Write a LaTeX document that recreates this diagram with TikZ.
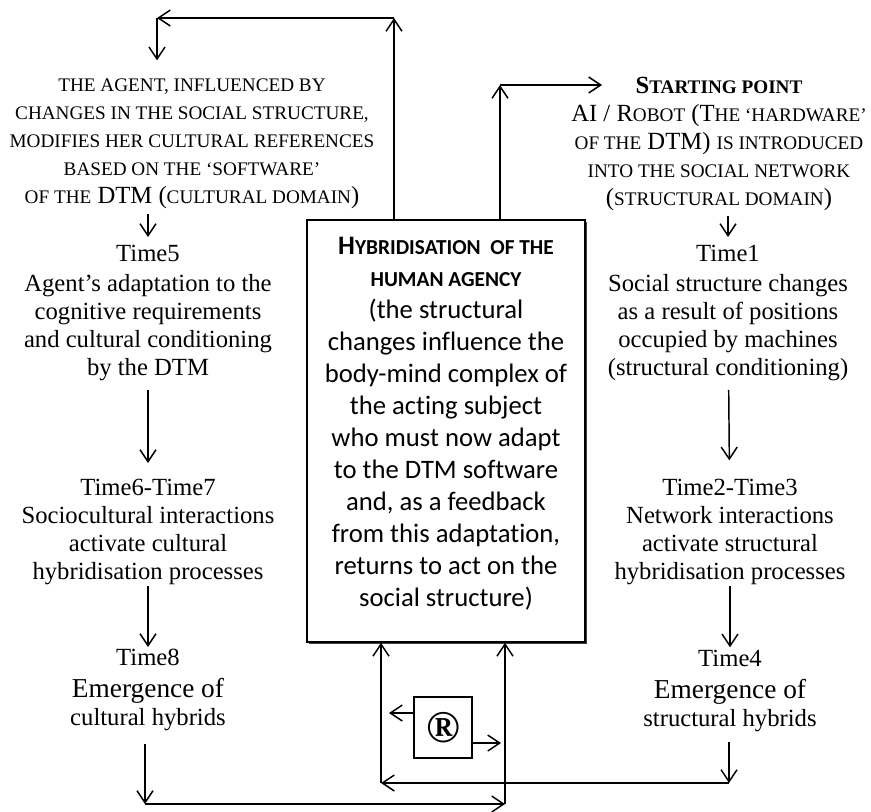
\documentclass[tikz,border=0pt]{standalone}
\usepackage{fontspec}
\setmainfont{Liberation Serif}
\newfontfamily\calibfont[Ligatures=NoCommon]{Carlito}
\usetikzlibrary{arrows.meta,shadows}

% small capitals made by hand
\newcommand{\smc}[1]{{\fontsize{14.4}{21}\selectfont #1}}
\newcommand{\ssc}[1]{{\fontsize{16}{24}\selectfont #1}}
\newcommand{\bigtxt}{\fontsize{20.5}{21}\selectfont}

\begin{document}
\begin{tikzpicture}[x=0.75pt,y=-0.75pt,
  txt/.style={align=center, inner sep=0pt, outer sep=0pt, anchor=north, font=\fontsize{18.5}{21}\selectfont},
  arr/.style={-{Straight Barb[length=9pt,width=12pt]}, line width=1.1pt},
  hbox/.style={draw, line width=1.2pt, fill=white, minimum width=208.5pt, minimum height=316.5pt, align=center, font=\calibfont\fontsize{20}{24}\selectfont, drop shadow={shadow xshift=1.8pt, shadow yshift=-1.8pt, opacity=1, fill=black!75}}]
\useasboundingbox (0,0) rectangle (871,811);
% Testo in alto
\node[txt] (agent) at (192,79) {\smc{THE AGENT, INFLUENCED BY}\\
  \smc{CHANGES IN THE SOCIAL STRUCTURE,}\\
  \smc{MODIFIES HER CULTURAL REFERENCES}\\
  \smc{BASED ON THE ‘SOFTWARE’}\\
  \smc{OF THE} DTM (\smc{CULTURAL DOMAIN})};
\node[txt] (start) at (719,77) {{\bfseries S\smc{TARTING POINT}}\\
  AI / R\smc{OBOT} (T\smc{HE ‘HARDWARE’}\\
  \smc{OF THE} DTM) \smc{IS INTRODUCED}\\
  \smc{INTO THE SOCIAL NETWORK}\\
  (\smc{STRUCTURAL DOMAIN})};
% Colonna sinistra
\node[txt] (time5) at (148,245) {Time5\\[1.5pt]Agent’s adaptation to the\\cognitive requirements\\and cultural conditioning\\by the DTM};
\node[txt] (time67) at (148,479) {Time6-Time7\\Sociocultural interactions\\activate cultural\\hybridisation processes};
\node[txt] (time8) at (148,649) {Time8\\[3pt]\bigtxt Emergence of\\cultural hybrids};
% Colonna destra
\node[txt] (time1) at (728,245) {Time1\\[1.5pt]Social structure changes\\as a result of positions\\occupied by machines\\(structural conditioning)};
\node[txt] (time23) at (730,479) {Time2-Time3\\Network interactions\\activate structural\\hybridisation processes};
\node[txt] (time4) at (730,650) {Time4\\[3pt]\bigtxt Emergence of\\structural hybrids};
% Riquadro centrale
\node[hbox] (hybrid) at (446,431) {{\bfseries H\ssc{YBRIDISATION\ \ OF THE}}\\
  {\bfseries\ssc{HUMAN AGENCY}}\\
  (the structural\\changes influence the\\body-mind complex of\\the acting subject\\
  who must now adapt\\to the DTM software\\and, as a feedback\\from this adaptation,\\
  returns to act on the\\social structure)\rule[-14pt]{0pt}{0pt}};
\node[draw, line width=0.9pt, minimum width=43.5pt, minimum height=45.75pt, inner sep=0pt, font=\fontsize{34}{34}\selectfont\bfseries] (reg) at (443,727.5) {®};
% Punti dei collegamenti
\coordinate (tl) at (157,18);
\coordinate (tm) at (394,18);
\coordinate (tr) at (500,85);
\coordinate (trend) at (602,85);
\coordinate (bl) at (145,804);
\coordinate (br) at (505,804);
\coordinate (cr) at (729,783);
\coordinate (cl) at (381,783);
\coordinate (regl) at (389,713);
\coordinate (regr) at (501,743);
% Anello in alto
\draw[arr] (tm |- hybrid.north) -- (tm);
\draw[arr] (tm) -- (tl);
\draw[arr, shorten >=14pt] (tl) -- (tl |- agent.north);
\draw[arr] (tr |- hybrid.north) -- (tr);
\draw[arr] (tr) -- (trend);
% Frecce a sinistra
\draw[arr, shorten <=4pt, shorten >=6pt] (time5.north |- agent.south) -- (time5.north);
\draw[arr, shorten <=7pt, shorten >=12pt] (time5) -- (time67);
\draw[arr, shorten <=1pt, shorten >=1.5pt] (time67) -- (time8);
\draw[arr, shorten <=10pt] (bl |- time8.south) -- (bl);
\draw[arr] (bl) -- (br);
\draw[arr] (br) -- (br |- hybrid.south);
% Frecce a destra
\draw[arr, shorten <=4pt, shorten >=6pt] (time1.north |- start.south) -- (time1.north);
\draw[arr, shorten <=7pt, shorten >=14pt] (time1) -- (time23);
\draw[arr, shorten <=1pt, shorten >=2pt] (time23) -- (time4);
\draw[arr, shorten <=8pt] (cr |- time4.south) -- (cr);
\draw[arr] (cr) -- (cl);
\draw[arr] (cl) -- (cl |- hybrid.south);
% Riquadro R
\draw[arr] (reg.west |- regl) -- (regl);
\draw[arr] (reg.east |- regr) -- (regr);
\end{tikzpicture}
\end{document}
